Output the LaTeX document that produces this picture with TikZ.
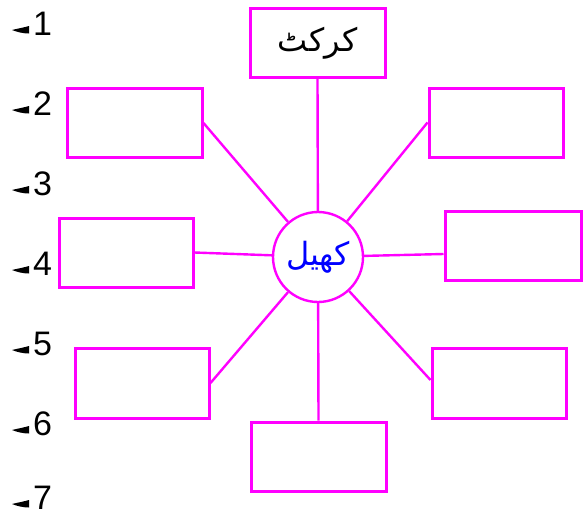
\documentclass[tikz,border=0pt]{standalone}
\usepackage{fontspec}
\setmainfont{Liberation Sans}
\newfontfamily\urdufont[Script=Arabic]{DejaVu Sans}
\TeXXeTstate=1
\definecolor{mag}{RGB}{255,0,255}
\definecolor{ublue}{RGB}{0,0,255}
\begin{document}
\begin{tikzpicture}[x=1pt,y=-1pt,
  box/.style={draw=mag,line width=3pt,rectangle,inner sep=0pt,minimum width=135pt,minimum height=69pt},
  hub/.style={draw=mag,line width=2.4pt,circle,inner sep=0pt,minimum size=90pt},
  link/.style={draw=mag,line width=2.4pt},
  num/.style={anchor=base west,inner sep=0pt,text height=24pt,text depth=0pt,font=\fontsize{34}{34}\selectfont},
  stopmark/.style={fill=black}
]
\useasboundingbox (0,0) rectangle (585,517);
% boxes
\node[box] (top) at (317.5,43) {\urdufont\fontsize{32}{32}\selectfont\beginR کرکٹ\endR};
\node[box] (tl) at (134.5,123) {};
\node[box,minimum width=134pt] (tr) at (496,122.5) {};
\node[box,minimum width=134pt] (ml) at (126,252.5) {};
\node[box,minimum width=136pt] (mr) at (513,245.5) {};
\node[box,minimum width=134pt,minimum height=70pt] (bl) at (142,383) {};
\node[box,minimum width=134pt,minimum height=70pt] (br) at (499,383) {};
\node[box] (bot) at (318.5,456.5) {};
% hub
\node[hub] (c) at (318,257) {\urdufont\color{ublue}\fontsize{32}{32}\selectfont\beginR کھیل\endR};
% links
\draw[link] (top.south) -- (c);
\draw[link] (bot.north) -- (c);
\draw[link] (tl.east) -- (c);
\draw[link] (tr.west) -- (c);
\draw[link] (ml.east) -- (c);
\draw[link] ([yshift=-8.5pt]mr.west) -- (c);
\draw[link] (bl.east) -- (c);
\draw[link] ([yshift=3pt]br.west) -- (c);
% numbers
\foreach \i/\b in {1/35,2/115,3/195,4/275,5/355,6/435,7/509}{
  \node[num] (n\i) at (33,\b) {\i};
  \fill[stopmark] (12,\b-5) .. controls (18,\b-6.5) and (24,\b-7.5) .. (29,\b-9)
    -- (29,\b-1.5) .. controls (23,\b-1.5) and (17,\b-3) .. (12,\b-5) -- cycle;
}
\end{tikzpicture}
\end{document}
